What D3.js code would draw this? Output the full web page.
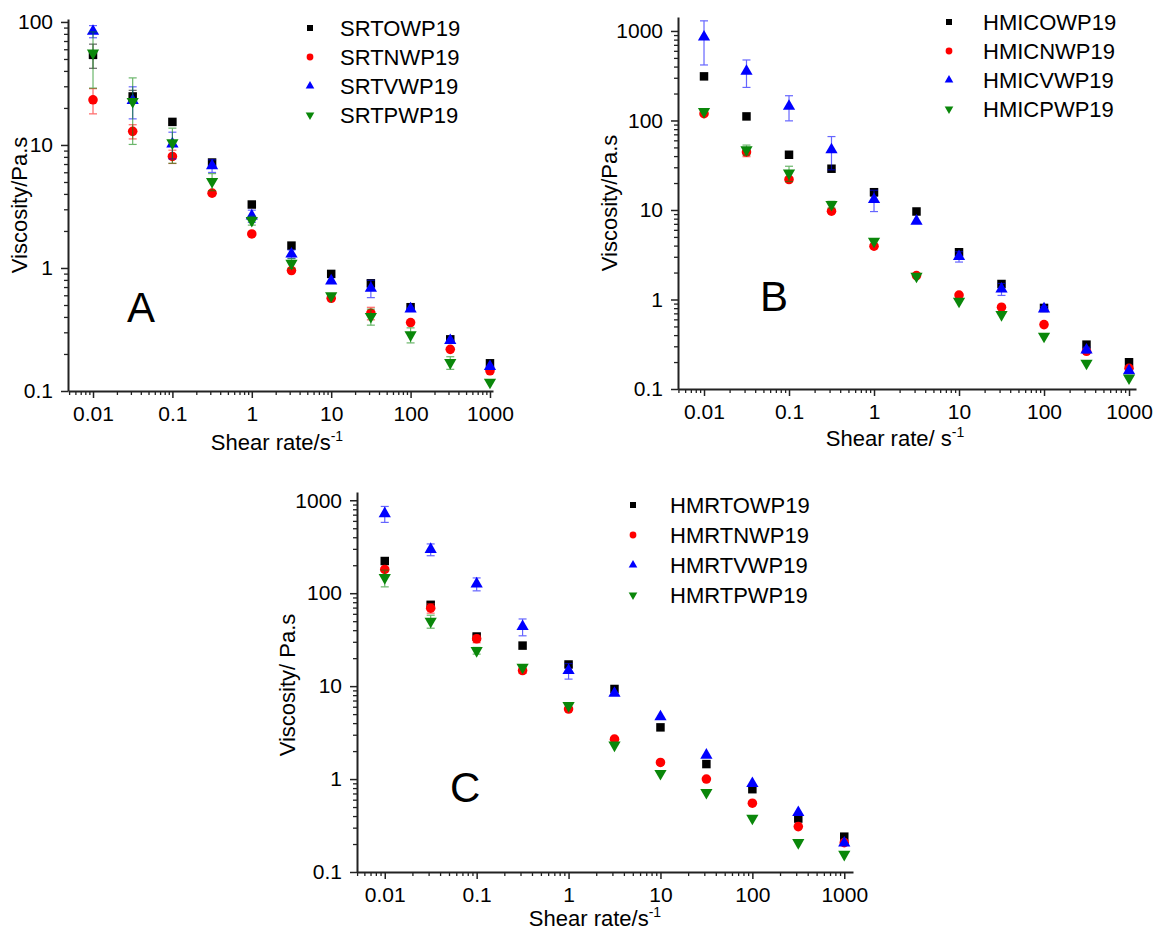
<!DOCTYPE html>
<html>
<head>
<meta charset="utf-8">
<script src="https://cdn.jsdelivr.net/npm/d3@7"></script>
<style>
  body { margin: 0; background: #fff; }
  svg { display: block; }
  text { font-family: "Liberation Sans", Arial, sans-serif; fill: #000; }
</style>
</head>
<body>
<div id="chart"></div>
<script>
// shared x values (shear rate, 1/s)
const shearRates = [0.01, 0.0316, 0.1, 0.316, 1, 3.16, 10, 31.6, 100, 316, 1000];
const tickValues = [0.01, 0.1, 1, 10, 100, 1000];

// Panel A
const namesA = ["SRTOWP19", "SRTNWP19", "SRTVWP19", "SRTPWP19"];
const srtO = [54, 24.8, 15.4, 7.2, 3.28, 1.52, 0.895, 0.75, 0.48, 0.263, 0.168];
const srtOErr = [12, 3, 0, 0.3, 0, 0, 0, 0.05, 0, 0, 0];
const srtN = [23.3, 12.9, 8.07, 4.06, 1.89, 0.953, 0.567, 0.429, 0.36, 0.218, 0.146];
const srtNErr = [5.4, 1.7, 1, 0, 0, 0, 0, 0.05, 0, 0, 0];
const srtV = [83.9, 23, 10.2, 6.78, 2.65, 1.3, 0.786, 0.684, 0.465, 0.257, 0.158];
const srtVErr = [9.5, 6.7, 2.5, 0.8, 0.3, 0.1, 0, 0.11, 0, 0, 0];
const srtP = [56, 22.6, 10.4, 5.05, 2.43, 1.09, 0.593, 0.403, 0.286, 0.17, 0.118];
const srtPErr = [27, 12.5, 3.3, 0.8, 0.2, 0.1, 0, 0.06, 0.04, 0.02, 0];

// Panel B
const namesB = ["HMICOWP19", "HMICNWP19", "HMICVWP19", "HMICPWP19"];
const hmicO = [311, 111, 41.4, 28.9, 15.8, 9.62, 3.37, 1.49, 0.805, 0.313, 0.199];
const hmicOErr = [0, 0, 0, 0, 1.5, 0, 0.2, 0, 0, 0, 0];
const hmicN = [119, 44.4, 21.9, 9.7, 3.94, 1.85, 1.12, 0.82, 0.524, 0.264, 0.17];
const hmicNErr = [0, 5, 1, 0, 0, 0, 0, 0, 0, 0, 0];
const hmicV = [857, 354, 144, 47.1, 13.1, 7.5, 3.02, 1.31, 0.785, 0.273, 0.16];
const hmicVErr = [440, 120, 45, 19, 3.5, 0, 0.4, 0.2, 0.05, 0.02, 0];
const hmicP = [126, 47.1, 25.8, 11.5, 4.48, 1.82, 0.955, 0.678, 0.388, 0.194, 0.133];
const hmicPErr = [0, 6, 5, 1, 0, 0, 0, 0, 0, 0, 0];

// Panel C
const namesC = ["HMRTOWP19", "HMRTNWP19", "HMRTVWP19", "HMRTPWP19"];
const hmrtO = [222, 75, 34.2, 27.3, 17.1, 9.32, 3.6, 1.45, 0.778, 0.376, 0.24];
const hmrtOErr = [0, 5, 2, 0, 1, 0, 0, 0, 0, 0, 0];
const hmrtN = [180, 69, 32.3, 14.7, 5.67, 2.69, 1.51, 1.0, 0.55, 0.308, 0.207];
const hmrtNErr = [0, 8, 3, 1, 0, 0, 0, 0, 0, 0, 0];
const hmrtV = [718, 296, 126, 43.8, 14.7, 8.37, 4.69, 1.81, 0.896, 0.436, 0.205];
const hmrtVErr = [140, 43, 20, 9, 2.8, 0, 0, 0, 0, 0, 0];
const hmrtP = [147, 50, 24.1, 16, 6.17, 2.32, 1.15, 0.717, 0.379, 0.207, 0.155];
const hmrtPErr = [30, 8, 2, 0, 0, 0, 0, 0, 0, 0, 0];

const colors = ["#000000", "#ff0000", "#0000ff", "#0a870a"];
const shapes = ["square", "circle", "up", "down"];

const svg = d3.select("#chart").append("svg")
  .attr("width", 1164)
  .attr("height", 932);

function markerPath(shape, size) {
  if (shape === "square") return d3.symbol(d3.symbolSquare, size)();
  if (shape === "circle") return d3.symbol(d3.symbolCircle, size)();
  return d3.symbol(d3.symbolTriangle, size * 0.9)();
}

function drawPanel(p) {
  const g = svg.append("g");

  const x = d3.scaleLog().domain([p.xMin, p.xMax]).range([p.left, p.right]);
  const y = d3.scaleLog().domain([0.1, p.yMax]).range([p.bottom, p.top]);

  const fmt = d => d >= 1 ? d3.format("d")(d) : String(d);

  // minor ticks at 2..9 of each decade
  const minorX = [];
  for (let e = -3; e <= 3; e++) for (let k = 2; k <= 9; k++) {
    const v = k * Math.pow(10, e);
    if (v > p.xMin && v < p.xMax) minorX.push(v);
  }
  const yTicks = tickValues.filter(v => v >= 0.1 && v <= p.yMax);
  const minorY = [];
  for (let e = -1; e <= 3; e++) for (let k = 2; k <= 9; k++) {
    const v = k * Math.pow(10, e);
    if (v < p.yMax) minorY.push(v);
  }

  // x axis
  g.append("g")
    .attr("transform", `translate(0,${p.bottom})`)
    .call(d3.axisBottom(x).tickValues(minorX).tickSize(4).tickSizeOuter(0).tickFormat(""))
    .call(a => a.select(".domain").remove())
    .selectAll("line").attr("stroke", "#222").attr("stroke-width", 1.3);
  const xa = g.append("g")
    .attr("transform", `translate(0,${p.bottom})`)
    .call(d3.axisBottom(x).tickValues(tickValues).tickSize(7).tickSizeOuter(0).tickPadding(8).tickFormat(fmt));
  xa.select(".domain").attr("stroke", "#222").attr("stroke-width", 2);
  xa.selectAll("line").attr("stroke", "#222").attr("stroke-width", 1.5);
  xa.selectAll("text").attr("font-size", 21).attr("fill", "#000");

  // y axis
  g.append("g")
    .attr("transform", `translate(${p.left},0)`)
    .call(d3.axisLeft(y).tickValues(minorY).tickSize(4).tickSizeOuter(0).tickFormat(""))
    .call(a => a.select(".domain").remove())
    .selectAll("line").attr("stroke", "#222").attr("stroke-width", 1.3);
  const ya = g.append("g")
    .attr("transform", `translate(${p.left},0)`)
    .call(d3.axisLeft(y).tickValues(yTicks).tickSize(7).tickSizeOuter(0).tickPadding(8).tickFormat(fmt));
  ya.select(".domain").attr("stroke", "#222").attr("stroke-width", 2);
  ya.selectAll("line").attr("stroke", "#222").attr("stroke-width", 1.5);
  ya.selectAll("text").attr("font-size", 21).attr("fill", "#000");

  // series: error bars then markers
  p.series.forEach((s, i) => {
    const pts = shearRates.map((xv, j) => ({ x: xv, v: s.values[j], e: s.errors[j] }));
    const eb = g.append("g")
      .attr("stroke", colors[i])
      .attr("stroke-width", 1.2)
      .attr("opacity", 0.6);
    pts.filter(d => d.e > 0).forEach(d => {
      const lo = Math.max(d.v - d.e, 0.1);
      const hi = d.v + d.e;
      const cx = x(d.x);
      eb.append("line").attr("x1", cx).attr("x2", cx).attr("y1", y(lo)).attr("y2", y(hi));
      eb.append("line").attr("x1", cx - 4).attr("x2", cx + 4).attr("y1", y(lo)).attr("y2", y(lo));
      eb.append("line").attr("x1", cx - 4).attr("x2", cx + 4).attr("y1", y(hi)).attr("y2", y(hi));
    });
    g.append("g").selectAll("path")
      .data(pts)
      .enter().append("path")
      .attr("d", markerPath(shapes[i], 72))
      .attr("transform", d => `translate(${x(d.x)},${y(d.v)})` + (shapes[i] === "down" ? " rotate(180)" : ""))
      .attr("fill", colors[i]);
  });

  // legend
  const leg = g.append("g").selectAll("g")
    .data(p.series)
    .enter().append("g")
    .attr("transform", (d, i) => `translate(${p.legX},${p.legY + i * p.legStep})`);
  leg.append("path")
    .attr("d", (d, i) => markerPath(shapes[i], 36))
    .attr("transform", (d, i) => shapes[i] === "down" ? "rotate(180)" : null)
    .attr("fill", (d, i) => colors[i]);
  leg.append("text")
    .attr("x", p.legTextDx)
    .attr("dy", "0.36em")
    .attr("font-size", 22)
    .text(d => d.name);

  // panel letter
  g.append("text")
    .attr("x", p.letterX)
    .attr("y", p.letterY)
    .attr("font-size", 42)
    .text(p.letter);

  // axis titles
  g.append("text")
    .attr("transform", `translate(${p.yTitleX},${p.yTitleY}) rotate(-90)`)
    .attr("text-anchor", "middle")
    .attr("font-size", 22)
    .text(p.yTitle);
  const xt = g.append("text")
    .attr("x", p.xTitleX)
    .attr("y", p.xTitleY)
    .attr("text-anchor", "middle")
    .attr("font-size", 22)
    .text(p.xTitle);
  xt.append("tspan")
    .attr("dy", -9)
    .attr("font-size", 14)
    .text("-1");
}

drawPanel({
  left: 68, right: 493, top: 19, bottom: 391,
  xMin: Math.pow(10, -2.315), xMax: Math.pow(10, 3.038), yMax: Math.pow(10, 2.024),
  series: [
    { name: namesA[0], values: srtO, errors: srtOErr },
    { name: namesA[1], values: srtN, errors: srtNErr },
    { name: namesA[2], values: srtV, errors: srtVErr },
    { name: namesA[3], values: srtP, errors: srtPErr }
  ],
  legX: 310, legY: 28, legStep: 29, legTextDx: 30,
  letter: "A", letterX: 127, letterY: 322,
  yTitle: "Viscosity/Pa.s", yTitleX: 27, yTitleY: 205,
  xTitle: "Shear rate/s", xTitleX: 277, xTitleY: 450
});

drawPanel({
  left: 678, right: 1136, top: 17, bottom: 389,
  xMin: Math.pow(10, -2.306), xMax: Math.pow(10, 3.082), yMax: Math.pow(10, 3.156),
  series: [
    { name: namesB[0], values: hmicO, errors: hmicOErr },
    { name: namesB[1], values: hmicN, errors: hmicNErr },
    { name: namesB[2], values: hmicV, errors: hmicVErr },
    { name: namesB[3], values: hmicP, errors: hmicPErr }
  ],
  legX: 949, legY: 22, legStep: 29, legTextDx: 34,
  letter: "B", letterX: 760, letterY: 311,
  yTitle: "Viscosity/Pa.s", yTitleX: 617, yTitleY: 203,
  xTitle: "Shear rate/ s", xTitleX: 895, xTitleY: 446
});

drawPanel({
  left: 357, right: 853, top: 492, bottom: 872,
  xMin: Math.pow(10, -2.302), xMax: Math.pow(10, 3.095), yMax: Math.pow(10, 3.089),
  series: [
    { name: namesC[0], values: hmrtO, errors: hmrtOErr },
    { name: namesC[1], values: hmrtN, errors: hmrtNErr },
    { name: namesC[2], values: hmrtV, errors: hmrtVErr },
    { name: namesC[3], values: hmrtP, errors: hmrtPErr }
  ],
  legX: 633, legY: 505, legStep: 30, legTextDx: 37,
  letter: "C", letterX: 450, letterY: 802,
  yTitle: "Viscosity/ Pa.s", yTitleX: 295, yTitleY: 685,
  xTitle: "Shear rate/s", xTitleX: 595, xTitleY: 926
});
</script>
</body>
</html>
